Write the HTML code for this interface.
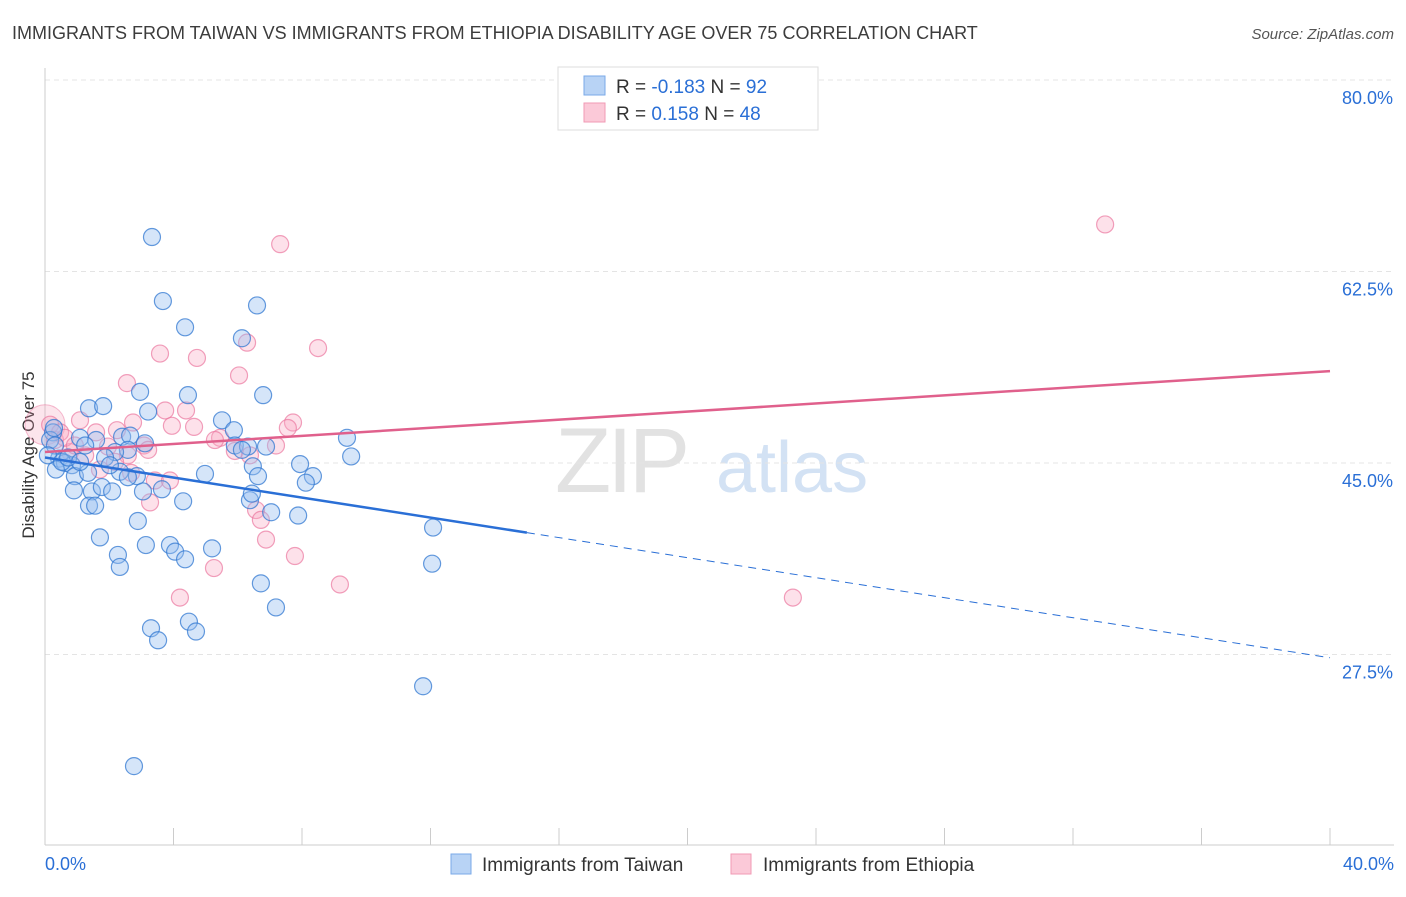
<!DOCTYPE html>
<html><head><meta charset="utf-8"><style>
body{margin:0;background:#fff;font-family:"Liberation Sans",sans-serif;}
svg text{font-family:"Liberation Sans",sans-serif;}
</style></head><body>
<svg id="chart" width="1406" height="892" xmlns="http://www.w3.org/2000/svg">
<text x="12" y="39" font-size="18" fill="#3c3c3c">IMMIGRANTS FROM TAIWAN VS IMMIGRANTS FROM ETHIOPIA DISABILITY AGE OVER 75 CORRELATION CHART</text>
<text x="1394" y="39" font-size="15" fill="#555" text-anchor="end" font-style="italic">Source: ZipAtlas.com</text>
<text transform="translate(34,455) rotate(-90)" font-size="17" fill="#333" text-anchor="middle">Disability Age Over 75</text>
<g id="watermark">
<text x="555" y="492" font-size="92" fill="#e2e2e2" font-family="Liberation Serif" letter-spacing="-4">ZIP</text>
<text x="716" y="492" font-size="72" fill="#d3e2f4">atlas</text>
</g>
<g id="grid"></g><g id="axes"></g><g id="pts"></g><g id="lines"></g>
<g>
<rect x="558" y="67" width="260" height="63" fill="#fff" stroke="#ddd"/>
<rect x="584" y="76" width="21" height="19" fill="#b8d3f5" stroke="#7aa9e8"/>
<rect x="584" y="103" width="21" height="19" fill="#fbc9d8" stroke="#f09ab4"/>
<text x="616" y="93" font-size="19" fill="#333">R = <tspan fill="#2a6fd6">-0.183</tspan>   N = <tspan fill="#2a6fd6">92</tspan></text>
<text x="616" y="120" font-size="19" fill="#333">R =  <tspan fill="#2a6fd6">0.158</tspan>   N = <tspan fill="#2a6fd6">48</tspan></text>
</g>
<g>
<rect x="451" y="854" width="20" height="20" fill="#b8d3f5" stroke="#7aa9e8"/>
<text x="482" y="871" font-size="19" fill="#333">Immigrants from Taiwan</text>
<rect x="731" y="854" width="20" height="20" fill="#fbc9d8" stroke="#f09ab4"/>
<text x="763" y="871" font-size="19" fill="#333">Immigrants from Ethiopia</text>
</g>
</svg>
<script>
const xTicks=[0,4,8,12,16,20,24,28,32,36,40];
const yTicks=[80,62.5,45,27.5];
const yTickLabels=["80.0%","62.5%","45.0%","27.5%"];
const blueX=[3.33,3.67,4.36,6.6,6.13,4.45,2.96,6.79,1.37,1.81,3.21,5.51,5.88,1.09,1.59,2.40,2.65,3.11,2.58,2.18,5.91,6.32,6.88,9.40,9.53,7.94,6.47,0.44,0.62,0.84,0.34,0.93,1.34,1.87,2.33,2.86,4.98,6.63,8.34,8.12,3.64,3.05,0.90,1.46,1.77,2.09,2.58,6.38,6.44,4.30,1.37,1.56,7.04,7.88,2.89,12.08,1.71,3.14,3.89,4.05,5.20,4.36,2.27,2.33,12.05,6.72,7.19,3.30,4.48,4.70,3.52,11.77,2.77,0.25,0.16,0.31,0.09,0.53,0.72,1.09,1.25,2.02,6.13,0.28];
const blueY=[65.65,59.8,57.4,59.4,56.4,51.2,51.5,51.2,50.0,50.2,49.7,48.9,48.0,47.3,47.1,47.4,47.5,46.8,46.2,46.0,46.6,46.5,46.5,47.3,45.6,44.9,44.7,45.4,45.0,44.8,44.4,43.8,44.1,45.5,44.2,43.8,44.0,43.8,43.8,43.2,42.6,42.4,42.5,42.4,42.8,42.4,43.7,41.6,42.2,41.5,41.1,41.1,40.5,40.2,39.7,39.1,38.2,37.5,37.5,36.9,37.2,36.2,36.6,35.5,35.8,34.0,31.8,29.9,30.5,29.6,28.8,24.6,17.3,47.8,47.1,46.6,45.7,45.1,45.5,45.1,46.6,44.8,46.2,48.2];
const pinkX=[33.0,7.32,3.58,4.73,6.29,8.50,6.04,2.55,3.74,4.39,7.72,7.56,3.95,4.64,2.74,1.59,1.09,5.45,5.91,6.38,7.19,3.08,1.96,2.58,2.18,3.42,3.89,2.68,3.27,6.57,6.72,6.88,7.78,5.26,4.20,9.18,23.28,0.16,0.31,0.47,0.78,1.25,0.62,5.29,2.24,3.21,0.93,1.71];
const pinkY=[66.8,65.0,55.0,54.6,56.0,55.5,53.0,52.3,49.8,49.8,48.7,48.2,48.4,48.3,48.7,47.8,48.9,47.3,46.1,45.7,46.6,46.6,46.5,45.7,45.1,43.4,43.4,44.1,41.4,40.7,39.8,38.0,36.5,35.4,32.7,33.9,32.7,48.5,47.1,47.8,46.0,45.7,47.3,47.1,48.0,46.2,46.6,44.4];
const blueTrend=[45.5,27.2];
const pinkTrend=[46.0,53.4];
const blueSolidEnd=15;
const NS="http://www.w3.org/2000/svg";
const X0=45,X1=1330,YTOP=80;
function sx(v){return X0+(v/40)*(X1-X0);}
function sy(v){return 80+(80-v)*(191.5/17.5);}
function mk(tag,attrs,parent){const e=document.createElementNS(NS,tag);for(const k in attrs)e.setAttribute(k,attrs[k]);parent.appendChild(e);return e;}
const grid=document.getElementById('grid'),axes=document.getElementById('axes'),pts=document.getElementById('pts'),lines=document.getElementById('lines');
yTicks.forEach((t,i)=>{
 const l=mk('line',{x1:45,x2:1394,y1:sy(t),y2:sy(t),stroke:'#e4e4e4','stroke-dasharray':'5,4'},grid);
 
 
 const tx=mk('text',{x:1393,y:sy(t)+24,'font-size':18,fill:'#2a6fd6','text-anchor':'end'},axes);
 tx.textContent=yTickLabels[i];
 
 
});
const ya=mk('line',{x1:45,x2:45,y1:68,y2:845,stroke:'#ccc'},axes);


const xa=mk('line',{x1:45,x2:1394,y1:845,y2:845,stroke:'#ccc'},axes);


xTicks.forEach(t=>{
 const l=mk('line',{x1:sx(t),x2:sx(t),y1:828,y2:845,stroke:'#ccc'},axes);
 
 
});
[[0,'0.0%','start',45],[40,'40.0%','end',1394]].forEach(a=>{
 const tx=mk('text',{x:a[3],y:870,'font-size':18,fill:'#2a6fd6','text-anchor':a[2]},axes);
 tx.textContent=a[1];
 
 
});
const big=mk('circle',{cx:sx(0),cy:sy(48.5),r:20,fill:'rgba(245,150,180,0.25)',stroke:'rgba(235,120,160,0.5)'},pts);


pinkX.forEach((x,i)=>{
 const c=mk('circle',{cx:sx(x),cy:sy(pinkY[i]),r:8.5,fill:'rgba(248,170,195,0.35)',stroke:'rgba(235,120,160,0.7)','stroke-width':1.2},pts);
 
 
});
blueX.forEach((x,i)=>{
 const c=mk('circle',{cx:sx(x),cy:sy(blueY[i]),r:8.5,fill:'rgba(150,190,240,0.4)',stroke:'rgba(50,120,210,0.75)','stroke-width':1.2},pts);
 
 
});
function ty(tr,x){return tr[0]+(tr[1]-tr[0])*x/40;}
const pl=mk('line',{x1:sx(0),y1:sy(pinkTrend[0]),x2:sx(40),y2:sy(pinkTrend[1]),stroke:'#e0608c','stroke-width':2.5},lines);


const bl=mk('line',{x1:sx(0),y1:sy(blueTrend[0]),x2:sx(blueSolidEnd),y2:sy(ty(blueTrend,blueSolidEnd)),stroke:'#2a6fd6','stroke-width':2.5},lines);


const bd=mk('line',{x1:sx(blueSolidEnd),y1:sy(ty(blueTrend,blueSolidEnd)),x2:sx(40),y2:sy(blueTrend[1]),stroke:'#2a6fd6','stroke-width':1,'stroke-dasharray':'8,6'},lines);


</script>
</body></html>
